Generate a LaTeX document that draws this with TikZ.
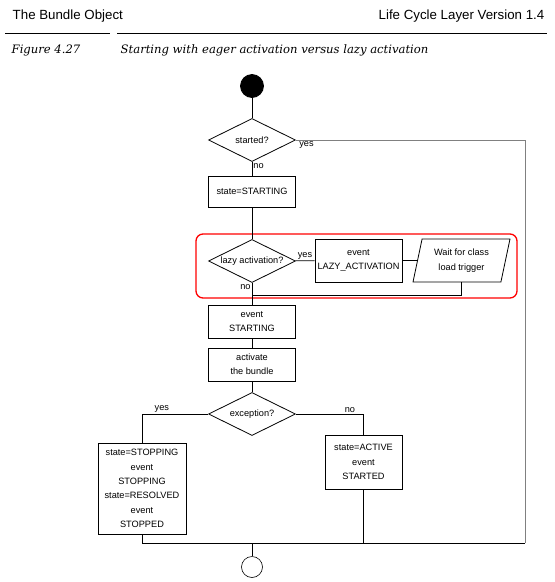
\documentclass[tikz,border=0pt]{standalone}
\usepackage{fontspec}
\setmainfont{Liberation Sans}
\newfontfamily\capfont{DejaVu Serif}
\usetikzlibrary{shapes.geometric}
\begin{document}
\begin{tikzpicture}[x=1pt,y=-1pt,line width=0.8pt,
            every node/.style={font=\fontsize{9.2}{14.4}\selectfont},
            proc/.style={draw,align=center,inner sep=1pt,minimum width=87pt,minimum height=33pt},
            decision/.style={draw,diamond,shape aspect=2,inner sep=0pt,minimum width=87pt,minimum height=43pt},
            wait/.style={draw,trapezium,trapezium left angle=70,trapezium right angle=110,trapezium stretches body,align=center,inner sep=1pt,minimum width=97pt,minimum height=43pt},
            lbl/.style={inner sep=1pt},
            startdot/.style={circle,fill=black,draw,minimum size=23pt,inner sep=0pt},
            enddot/.style={circle,draw,line width=0.6pt,minimum size=21pt,inner sep=0pt}]
            \useasboundingbox (0,0) rectangle (555,582);
            \node[anchor=base west,font=\fontsize{13.3}{16}\selectfont] (hleft) at (9,19.5) {The Bundle Object};
            \node[anchor=base east,font=\fontsize{13.3}{16}\selectfont] (hright) at (548,19.5) {Life Cycle Layer Version 1.4};
            \draw[line width=0.6pt] (5,33.5) -- (110,33.5);
            \draw[line width=0.6pt] (117,33.5) -- (547,33.5);
            \node[anchor=base west,font=\capfont\itshape\fontsize{11.6}{13}\selectfont] (fignum) at (8,53) {Figure 4.27};
            \node[anchor=base west,font=\capfont\itshape\fontsize{11.6}{13}\selectfont] (figcap) at (117,53) {Starting with eager activation versus lazy activation};
            \draw[red,line width=1.3pt,rounded corners=7pt] (196,234) rectangle (517,298);
            \node[startdot] (init) at (252,86) {};
            \node[decision] (started) at (252,140) {started?};
            \node[proc,minimum height=31pt] (starting) at (252,191.5) {state=STARTING};
            \node[decision] (lazy) at (252,261) {lazy activation?};
            \node[proc,minimum height=43pt] (lazyev) at (358.5,260.5) {event\\LAZY\_ACTIVATION};
            \node[wait] (trigger) at (461.5,260.5) {Wait for class\\load trigger};
            \node[proc] (evstart) at (252,321.5) {event\\STARTING};
            \node[proc] (activate) at (252,364.5) {activate\\the bundle};
            \node[decision] (exc) at (252,414) {exception?};
            \node[proc,minimum width=88pt,minimum height=91pt] (stopping) at (142,488.5) {state=STOPPING\\event\\STOPPING\\state=RESOLVED\\event\\STOPPED};
            \node[proc,minimum width=77pt,minimum height=54pt] (active) at (363.5,462) {state=ACTIVE\\event\\STARTED};
            \node[enddot] (final) at (252,567) {};
            \coordinate (lzjoin) at (252,295);
            \coordinate (merge) at (252,543);
            \coordinate (rightc) at (525,543);
            \draw (init) -- (started);
            \draw (started) -- node[lbl,pos=0.3,right] (startedno) {no} (starting);
            \node[lbl,anchor=north west] (startedyes) at ([xshift=2pt]started.east) {yes};
            \draw[gray] (started.east) -| (rightc);
            \draw (starting) -- (lazy);
            \draw (lazy) -- node[lbl,above] (lazyyes) {yes} (lazyev);
            \draw (lazyev) -- (trigger);
            \draw (trigger.south) |- (lzjoin);
            \draw (lazy) -- node[lbl,pos=0.2,left] (lazyno) {no} (evstart);
            \draw (evstart) -- (activate);
            \draw (activate) -- (exc);
            \draw (exc.west) -| node[lbl,pos=0.35,above] (excyes) {yes} (stopping.north);
            \draw (exc.east) -| node[lbl,pos=0.4,above] (excno) {no} (active.north);
            \draw (stopping.south) |- (merge);
            \draw (active.south) |- (merge);
            \draw (rightc) -- (active.south |- rightc);
            \draw (merge) -- (final);
\end{tikzpicture}
\end{document}
